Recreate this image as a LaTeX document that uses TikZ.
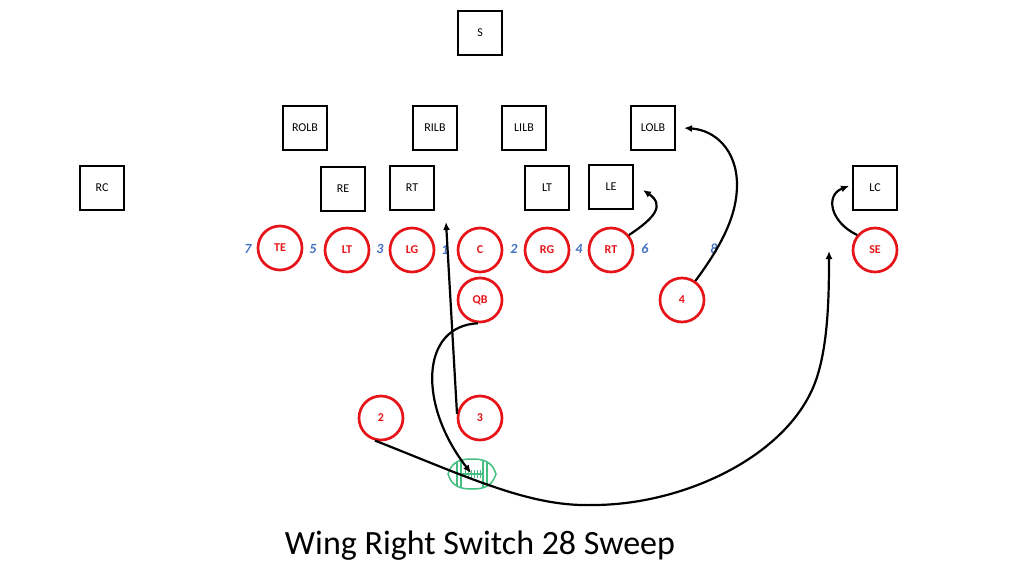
\documentclass[tikz,border=0pt]{standalone}
\usepackage{fontspec}
\setmainfont{Carlito}
\usetikzlibrary{arrows.meta}
\definecolor{offred}{RGB}{230,20,25}
\definecolor{holeblue}{RGB}{68,114,196}
\definecolor{ballgreen}{RGB}{70,190,130}
\tikzset{
  defbox/.style={draw,line width=2.9pt,minimum size=44pt,inner sep=0pt,font=\fontsize{12}{14}\selectfont},
  offcirc/.style={circle,draw=offred,line width=2.7pt,minimum size=44pt,inner sep=0pt,text=offred,font=\bfseries\fontsize{12}{14}\selectfont},
  hole/.style={text=holeblue,inner sep=0pt,font=\bfseries\itshape\fontsize{14}{16}\selectfont},
  run/.style={line width=2.2pt,-{Latex[length=8pt,width=7pt]}}
}
\begin{document}
\begin{tikzpicture}[x=1pt,y=-1pt]
\useasboundingbox (0,0) rectangle (1024,576);
% defense
\node[defbox] (s) at (480,33) {S};
\node[defbox] (rolb) at (305,128) {ROLB};
\node[defbox] (rilb) at (435,128) {RILB};
\node[defbox] (lilb) at (524,128) {LILB};
\node[defbox] (lolb) at (653,128) {LOLB};
\node[defbox] (rc) at (102,188) {RC};
\node[defbox] (re) at (343,189) {RE};
\node[defbox] (rt) at (412,188) {RT};
\node[defbox] (lt) at (547,188) {LT};
\node[defbox] (le) at (611,187) {LE};
\node[defbox] (lc) at (875,188) {LC};
% offense
\node[offcirc] (te) at (280,248) {TE};
\node[offcirc] (olt) at (347,250) {LT};
\node[offcirc] (lg) at (412,250) {LG};
\node[offcirc] (c) at (480,250) {C};
\node[offcirc] (rg) at (547,250) {RG};
\node[offcirc] (ort) at (611,250) {RT};
\node[offcirc] (se) at (875,250) {SE};
\node[offcirc] (qb) at (480,300) {QB};
\node[offcirc] (p4) at (682,300) {4};
\node[offcirc] (p2) at (381,418) {2};
\node[offcirc] (p3) at (480,418) {3};
% holes
\node[hole] (h7) at (248,249) {7};
\node[hole] (h5) at (313,249) {5};
\node[hole] (h3) at (380,249) {3};
\node[hole] (h1) at (445,250) {1};
\node[hole] (h2) at (514,249) {2};
\node[hole] (h4) at (579,249) {4};
\node[hole] (h6) at (645,249) {6};
\node[hole] (h8) at (714,249) {8};
% ball
\coordinate (ball) at (471,473);
\draw[ballgreen,line width=1.5pt] (448,474) .. controls (452,461) and (461,459) .. (472,459)
  .. controls (483,459) and (492,461) .. (496,474) .. controls (492,487) and (483,489) .. (472,489)
  .. controls (461,489) and (452,487) .. (448,474) -- cycle;
\draw[ballgreen,line width=1.3pt] (457,462)--(457,486);
\draw[ballgreen,line width=1.3pt] (461,461)--(461,487);
\draw[ballgreen,line width=1.3pt] (483,461)--(483,487);
\draw[ballgreen,line width=1.3pt] (487,462)--(487,486);
\draw[ballgreen,line width=1.3pt] (461,474)--(483,474);
\foreach \x in {465,468,471,474,477,480}
  \draw[ballgreen,line width=1pt] (\x,470)--(\x,478);
% runs
\coordinate (hole1) at (446,222);
\draw[run] (p3.170) -- (hole1);
\draw[run] (qb.265) .. controls (420,326) and (418,405) .. (ball);
\coordinate (wide) at (829,251);
\draw[run] (p2.255) .. controls (470,478) and (530,507) .. (593,505)
  .. controls (680,505) and (780,460) .. (812,390)
  .. controls (828,355) and (829,300) .. (wide);
\coordinate (lolbtip) at (684,128);
\draw[run] (p4.55) .. controls (722,245) and (737,215) .. (737,185)
  .. controls (737,150) and (715,130) .. (lolbtip);
\coordinate (letip) at (643,190);
\draw[run] (ort.40) .. controls (655,218) and (665,205) .. (letip);
\coordinate (lctip) at (849,186);
\draw[run] (se.140) .. controls (830,222) and (825,195) .. (lctip);
% title
\node (title) at (480,546) {\fontsize{34}{40}\selectfont Wing Right Switch 28 Sweep};
\end{tikzpicture}
\end{document}
